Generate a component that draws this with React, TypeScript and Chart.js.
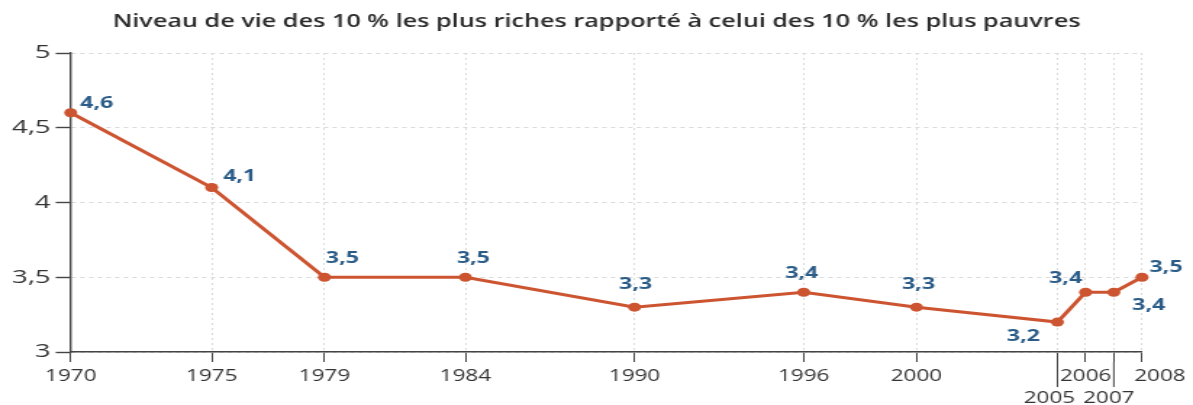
import React, { useEffect, useRef } from 'react';
import { Chart, registerables } from 'chart.js';

Chart.register(...registerables);

// ---------- data ----------
const TITLE = 'Niveau de vie des 10 % les plus riches rapporté à celui des 10 % les plus pauvres';
const YEARS = [1970, 1975, 1979, 1984, 1990, 1996, 2000, 2005, 2006, 2007, 2008];
const RATIO = [4.6, 4.1, 3.5, 3.5, 3.3, 3.4, 3.3, 3.2, 3.4, 3.4, 3.5];
const Y_TICKS = [3, 3.5, 4, 4.5, 5];
const LOWER_ROW_YEARS = [2005, 2007];

// ---------- style (label placement in page pixels) ----------
const VALUE_LABEL_OFFSETS: [number, number][] = [
  [26, -10], [28, -12], [18, -20], [8, -20], [1, -24], [-2, -20],
  [2, -24], [-34, 13], [-20, -15], [35, 12], [24, -11],
];
const YEAR_LABEL_SHIFT: Record<number, number> = { 2005: -8, 2007: -5, 2008: 18 };

const PAGE_W = 1193;
const PAGE_H = 405;
const STRETCH = 1.45;
const CANVAS_W = Math.round(PAGE_W / STRETCH);
const SX = PAGE_W / CANVAS_W;

const FONT = "'Open Sans', 'Noto Sans', sans-serif";
const LINE_COLOR = '#cc5430';
const LABEL_COLOR = '#2b5c88';
const TEXT_COLOR = '#333333';
const AXIS_COLOR = '#444444';
const GRID_COLOR = '#dadada';

const fmt = (v: number) => String(v).replace('.', ',');

const titlePlugin = {
  id: 'pageTitle',
  afterDraw(chart: any) {
    const ctx = chart.ctx;
    ctx.save();
    ctx.font = `600 17.4px ${FONT}`;
    ctx.fillStyle = '#2b2b2b';
    ctx.textAlign = 'center';
    ctx.textBaseline = 'alphabetic';
    ctx.fillText(TITLE, CANVAS_W / 2, 27);
    ctx.restore();
  },
};

const valueLabels = {
  id: 'valueLabels',
  afterDatasetsDraw(chart: any) {
    const ctx = chart.ctx;
    const meta = chart.getDatasetMeta(0);
    ctx.save();
    ctx.font = `bold 16px ${FONT}`;
    ctx.fillStyle = LABEL_COLOR;
    ctx.textAlign = 'center';
    ctx.textBaseline = 'alphabetic';
    meta.data.forEach((pt: any, i: number) => {
      const [dx, dy] = VALUE_LABEL_OFFSETS[i];
      ctx.fillText(fmt(RATIO[i]), pt.x + dx / SX, pt.y + dy + 5.6);
    });
    ctx.restore();
  },
};

const yearLabels = {
  id: 'yearLabels',
  afterDraw(chart: any) {
    const ctx = chart.ctx;
    const xs = chart.scales.x;
    const base = xs.top;
    ctx.save();
    ctx.font = `15.5px ${FONT}`;
    ctx.fillStyle = TEXT_COLOR;
    ctx.textAlign = 'center';
    ctx.textBaseline = 'alphabetic';
    ctx.strokeStyle = AXIS_COLOR;
    ctx.lineWidth = 1;
    YEARS.forEach((year) => {
      const px = xs.getPixelForValue(year);
      const lower = LOWER_ROW_YEARS.includes(year);
      if (lower) {
        ctx.beginPath();
        ctx.moveTo(px, base + 10);
        ctx.lineTo(px, base + 35);
        ctx.stroke();
      }
      const shift = (YEAR_LABEL_SHIFT[year] || 0) / SX;
      const cy = lower ? base + 45 : base + 23;
      ctx.fillText(String(year), px + shift, cy + 5.5);
    });
    ctx.restore();
  },
};

export default function App() {
  const ref = useRef<HTMLCanvasElement>(null);

  useEffect(() => {
    document.body.style.margin = '0';
    const canvas = ref.current!;
    Chart.defaults.font.family = FONT;
    const chart = new Chart(canvas, {
      type: 'line',
      data: {
        datasets: [
          {
            data: YEARS.map((y, i) => ({ x: y, y: RATIO[i] })),
            borderColor: LINE_COLOR,
            backgroundColor: LINE_COLOR,
            borderWidth: 3,
            pointRadius: 4.5,
            pointBackgroundColor: LINE_COLOR,
            pointBorderWidth: 0,
            tension: 0,
            clip: false as any,
          },
        ],
      },
      options: {
        responsive: false,
        animation: false,
        devicePixelRatio: 1,
        layout: { padding: { left: 0, right: CANVAS_W - 1142 / SX, top: 53, bottom: 0 } },
        plugins: {
          legend: { display: false },
          tooltip: { enabled: false },
          title: { display: false },
        },
        scales: {
          x: {
            type: 'linear',
            min: YEARS[0],
            max: YEARS[YEARS.length - 1],
            afterBuildTicks: (scale: any) => {
              scale.ticks = YEARS.map((v) => ({ value: v }));
            },
            afterFit: (scale: any) => {
              scale.height = PAGE_H - 352;
            },
            ticks: { display: false },
            grid: {
              color: GRID_COLOR,
              lineWidth: 1,
              drawTicks: true,
              tickLength: 10,
              tickColor: AXIS_COLOR,
              tickWidth: 1,
              tickBorderDash: [],
            } as any,
            border: { display: true, color: AXIS_COLOR, width: 1.6, dash: [2, 3] },
          },
          y: {
            type: 'linear',
            min: 3,
            max: 5,
            afterBuildTicks: (scale: any) => {
              scale.ticks = Y_TICKS.map((v) => ({ value: v }));
            },
            afterFit: (scale: any) => {
              scale.width = 70.7 / SX;
            },
            ticks: {
              color: TEXT_COLOR,
              font: { family: FONT, size: 19 },
              padding: 3.5,
              callback: (v: any) => fmt(Number(v)),
            },
            grid: {
              color: GRID_COLOR,
              lineWidth: 1,
              drawTicks: true,
              tickLength: 15 / SX,
              tickColor: AXIS_COLOR,
              tickWidth: 1.4,
              tickBorderDash: [],
            } as any,
            border: { display: true, color: AXIS_COLOR, width: 1.4, dash: [3, 3] },
          },
        },
      },
      plugins: [titlePlugin, valueLabels, yearLabels],
    });
    canvas.style.width = PAGE_W + 'px';
    canvas.style.height = PAGE_H + 'px';
    return () => chart.destroy();
  }, []);

  return <canvas ref={ref} width={CANVAS_W} height={PAGE_H} style={{ display: 'block' }} />;
}
